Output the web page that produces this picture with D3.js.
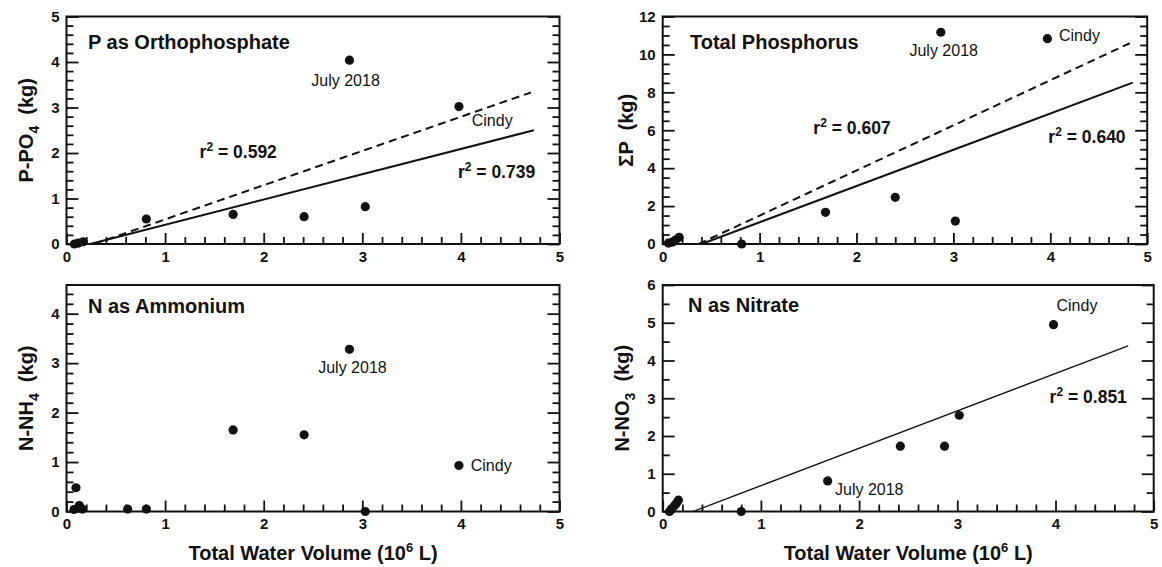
<!DOCTYPE html>
<html>
<head>
<meta charset="utf-8">
<script src="https://cdn.jsdelivr.net/npm/d3@7"></script>
<style>
  body { margin: 0; background: #fff; }
  svg text { font-family: "Liberation Sans", Arial, sans-serif; fill: #111; }
</style>
</head>
<body>
<div id="chart"></div>
<script>
// volumes (10^6 L) and loads (kg)
let po4Vol = [0.08, 0.12, 0.17, 0.81, 1.69, 2.41, 2.87, 3.03, 3.98];
let po4Kg  = [0.00, 0.02, 0.05, 0.55, 0.65, 0.60, 4.04, 0.82, 3.02];

let tpVol = [0.06, 0.10, 0.13, 0.17, 0.815, 1.68, 2.40, 2.87, 3.02, 3.97];
let tpKg  = [0.05, 0.10, 0.20, 0.35, 0.00, 1.67, 2.46, 11.17, 1.21, 10.83];

let nh4Vol = [0.076, 0.096, 0.13, 0.16, 0.62, 0.81, 1.69, 2.41, 2.87, 3.03, 3.98];
let nh4Kg  = [0.04, 0.48, 0.12, 0.05, 0.05, 0.05, 1.65, 1.55, 3.28, 0.00, 0.93];

let no3Vol = [0.07, 0.09, 0.12, 0.14, 0.16, 0.80, 1.68, 2.42, 2.87, 3.02, 3.98];
let no3Kg  = [0.00, 0.07, 0.15, 0.22, 0.30, 0.00, 0.81, 1.73, 1.73, 2.55, 4.95];

// regression lines, end points in data units
let po4FitSolid  = [[0.24, 0], [4.74, 2.50]];
let po4FitDashed = [[0.28, 0], [4.71, 3.33]];
let tpFitSolid   = [[0.40, 0], [4.85, 8.51]];
let tpFitDashed  = [[0.37, 0], [4.82, 10.59]];
let no3Fit       = [[0.31, 0], [4.74, 4.39]];

// tick labels
let xTicks    = [0, 1, 2, 3, 4, 5];
let po4YTicks = [0, 1, 2, 3, 4, 5];
let tpYTicks  = [0, 2, 4, 6, 8, 10, 12];
let nh4YTicks = [0, 1, 2, 3, 4];
let no3YTicks = [0, 1, 2, 3, 4, 5, 6];

let svgWidth = 1162;
let svgHeight = 567;

let svg = d3.select("#chart")
    .append("svg")
    .attr("width", svgWidth)
    .attr("height", svgHeight);

let panels = [
  {
    box: {left: 66.5, top: 16.5, width: 493, height: 227.5},
    yMax: 5, yTicks: po4YTicks, yMinor: 0.2,
    vol: po4Vol, kg: po4Kg,
    title: "P as Orthophosphate", titleAt: [21.5, 32.5],
    yLabel: ["P-PO", "4", "  (kg)"], yLabelOffset: 41,
    fits: [{pts: po4FitSolid, width: 2, dash: null}, {pts: po4FitDashed, width: 2, dash: "8,5"}],
    notes: [
      {text: "r2", value: " = 0.592", x: 1.35, y: 1.89},
      {text: "r2", value: " = 0.739", x: 3.97, y: 1.45},
      {text: "July 2018", x: 2.83, y: 3.47, anchor: "middle"},
      {text: "Cindy", x: 4.11, y: 2.59}
    ]
  },
  {
    box: {left: 662.7, top: 16.5, width: 484.5, height: 227.5},
    yMax: 12, yTicks: tpYTicks, yMinor: 0.5,
    vol: tpVol, kg: tpKg,
    title: "Total Phosphorus", titleAt: [27.3, 32],
    yLabel: ["\u03A3P", "", "  (kg)"], yLabelOffset: 37,
    fits: [{pts: tpFitSolid, width: 2, dash: null}, {pts: tpFitDashed, width: 2, dash: "8,5"}],
    notes: [
      {text: "r2", value: " = 0.607", x: 1.555, y: 5.78},
      {text: "r2", value: " = 0.640", x: 3.98, y: 5.33},
      {text: "July 2018", x: 2.90, y: 9.94, anchor: "middle"},
      {text: "Cindy", x: 4.09, y: 10.7}
    ]
  },
  {
    box: {left: 66.5, top: 285, width: 493, height: 226.5},
    yMax: 4.58, yTicks: nh4YTicks, yMinor: 0.2,
    vol: nh4Vol, kg: nh4Kg,
    title: "N as Ammonium", titleAt: [21.5, 28],
    yLabel: ["N-NH", "4", "  (kg)"], yLabelOffset: 41,
    fits: [],
    notes: [
      {text: "July 2018", x: 2.90, y: 2.81, anchor: "middle"},
      {text: "Cindy", x: 4.10, y: 0.81}
    ],
    xTitle: true
  },
  {
    box: {left: 662.7, top: 285, width: 491, height: 226.5},
    yMax: 6, yTicks: no3YTicks, yMinor: 0.5,
    vol: no3Vol, kg: no3Kg,
    title: "N as Nitrate", titleAt: [25.3, 27],
    yLabel: ["N-NO", "3", "  (kg)"], yLabelOffset: 41,
    fits: [{pts: no3Fit, width: 1.3, dash: null}],
    notes: [
      {text: "July 2018", x: 1.755, y: 0.45},
      {text: "Cindy", x: 4.01, y: 5.31},
      {text: "r2", value: " = 0.851", x: 3.94, y: 2.87}
    ],
    xTitle: true
  }
];

panels.forEach(function(p) {
  let w = p.box.width, h = p.box.height;
  let g = svg.append("g")
      .attr("transform", `translate(${p.box.left}, ${p.box.top})`);

  let x = d3.scaleLinear().domain([0, 5]).range([0, w]);
  let y = d3.scaleLinear().domain([0, p.yMax]).range([h, 0]);

  let xMinor = d3.range(0, 5.0001, 0.2).filter(v => Math.abs(v - Math.round(v)) > 1e-6);
  let yMinor = d3.range(0, p.yMax + 1e-6, p.yMinor)
      .filter(v => !p.yTicks.some(t => Math.abs(t - v) < 1e-6));

  // frame
  g.append("rect")
      .attr("width", w).attr("height", h)
      .attr("fill", "none").attr("stroke", "#111").attr("stroke-width", 2);

  // minor ticks, pointing inward
  g.append("g").attr("class", "tk").attr("transform", `translate(0,${h})`)
      .call(d3.axisBottom(x).tickValues(xMinor).tickSize(-7).tickFormat(""));
  g.append("g").attr("class", "tk")
      .call(d3.axisLeft(y).tickValues(yMinor).tickSize(-7).tickFormat(""));
  g.append("g").attr("class", "tk").attr("transform", `translate(${w},0)`)
      .call(d3.axisRight(y).tickValues(yMinor).tickSize(-7).tickFormat(""));

  // major ticks with labels
  g.append("g").attr("class", "tk lab").attr("transform", `translate(0,${h})`)
      .call(d3.axisBottom(x).tickValues(xTicks).tickSize(-11).tickPadding(7).tickFormat(d3.format("d")));
  g.append("g").attr("class", "tk lab")
      .call(d3.axisLeft(y).tickValues(p.yTicks).tickSize(-12).tickPadding(7).tickFormat(d3.format("d")));
  g.append("g").attr("class", "tk").attr("transform", `translate(${w},0)`)
      .call(d3.axisRight(y).tickValues(p.yTicks).tickSize(-12).tickFormat(""));

  g.selectAll(".tk .domain").remove();
  g.selectAll(".tk .tick line").attr("stroke", "#111").attr("stroke-width", 1.8);
  g.selectAll(".lab text")
      .attr("font-size", 15)
      .attr("font-weight", "bold");

  // fit lines
  let fitLine = d3.line().x(d => x(d[0])).y(d => y(d[1]));
  p.fits.forEach(function(f) {
    g.append("path")
        .attr("d", fitLine(f.pts))
        .attr("fill", "none")
        .attr("stroke", "#111")
        .attr("stroke-width", f.width)
        .attr("stroke-dasharray", f.dash);
  });

  // points
  g.selectAll("circle.pt")
      .data(d3.zip(p.vol, p.kg))
      .enter()
      .append("circle")
      .attr("class", "pt")
      .attr("cx", d => x(d[0]))
      .attr("cy", d => y(d[1]))
      .attr("r", 4.6)
      .attr("fill", "#111");

  // panel title
  g.append("text")
      .attr("x", p.titleAt[0]).attr("y", p.titleAt[1])
      .attr("font-size", 20).attr("font-weight", "bold")
      .text(p.title);

  // notes
  p.notes.forEach(function(n) {
    let t = g.append("text")
        .attr("x", x(n.x)).attr("y", y(n.y))
        .attr("text-anchor", n.anchor || "start");
    if (n.text === "r2") {
      t.attr("font-size", 17.5).attr("font-weight", "bold");
      t.append("tspan").text("r");
      t.append("tspan").attr("dy", -7).attr("font-size", 12).text("2");
      t.append("tspan").attr("dy", 7).text(n.value);
    } else {
      t.attr("font-size", 16).text(n.text);
    }
  });

  // y title
  let yt = g.append("text")
      .attr("transform", `translate(${-p.yLabelOffset}, ${h / 2}) rotate(-90)`)
      .attr("text-anchor", "middle")
      .attr("dy", "0.35em")
      .attr("font-size", 20).attr("font-weight", "bold")
      .style("white-space", "pre");
  yt.append("tspan").text(p.yLabel[0]);
  if (p.yLabel[1]) {
    yt.append("tspan").attr("dy", 6).attr("font-size", 14).text(p.yLabel[1]);
    yt.append("tspan").attr("dy", -6).text(p.yLabel[2]);
  } else {
    yt.append("tspan").text(p.yLabel[2]);
  }

  // x title
  if (p.xTitle) {
    let xt = g.append("text")
        .attr("x", w / 2).attr("y", h + 48)
        .attr("text-anchor", "middle")
        .attr("font-size", 20).attr("font-weight", "bold");
    xt.append("tspan").text("Total Water Volume (10");
    xt.append("tspan").attr("dy", -8).attr("font-size", 13).text("6");
    xt.append("tspan").attr("dy", 8).text(" L)");
  }
});
</script>
</body>
</html>
